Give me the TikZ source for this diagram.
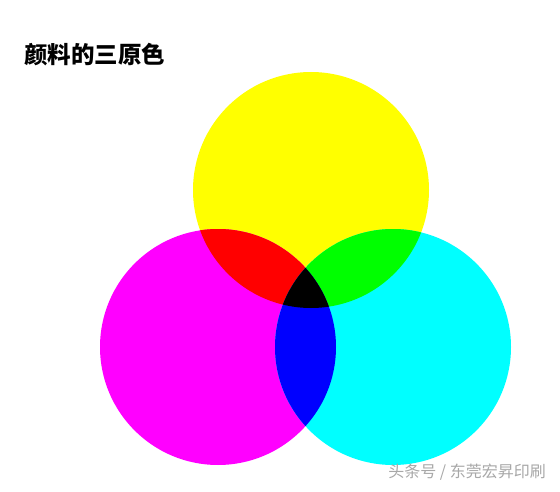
\documentclass[tikz,border=0pt]{standalone}
\usepackage{fontspec}
\newfontfamily\cjk{Noto Sans CJK SC}
\definecolor{pY}{HTML}{FFFF00}
\definecolor{pM}{HTML}{FF00FF}
\definecolor{pC}{HTML}{00FFFF}
\definecolor{pR}{HTML}{FF0000}
\definecolor{pG}{HTML}{00FF00}
\definecolor{pB}{HTML}{0000FF}
\definecolor{wm}{HTML}{A8A8A8}
\tikzset{
  titletext/.style={anchor=west, inner sep=0pt, font=\cjk\bfseries\fontsize{23.5}{25}\selectfont},
  marktext/.style={anchor=east, inner sep=0pt, text=wm, font=\cjk\fontsize{16}{18}\selectfont},
}
\begin{document}
\begin{tikzpicture}[x=1pt,y=-1pt]
\useasboundingbox (0,0) rectangle (560,492);
\fill[white] (0,0) rectangle (560,492);
\def\R{118}
\coordinate (Y) at (311,190);
\coordinate (M) at (218,347);
\coordinate (C) at (393,347);
% base circles
\fill[pY] (Y) circle (\R);
\fill[pM] (M) circle (\R);
\fill[pC] (C) circle (\R);
% pairwise overlaps
\begin{scope}
  \clip (Y) circle (\R);
  \fill[pR] (M) circle (\R);
  \fill[pG] (C) circle (\R);
\end{scope}
\begin{scope}
  \clip (M) circle (\R);
  \fill[pB] (C) circle (\R);
\end{scope}
% triple overlap
\begin{scope}
  \clip (Y) circle (\R);
  \clip (M) circle (\R);
  \fill[black] (C) circle (\R);
\end{scope}
% texts
\node[titletext] (title) at (24,55) {颜料的三原色};
\node[marktext] (mark) at (546,472) {头条号 / 东莞宏昇印刷};
\end{tikzpicture}
\end{document}
